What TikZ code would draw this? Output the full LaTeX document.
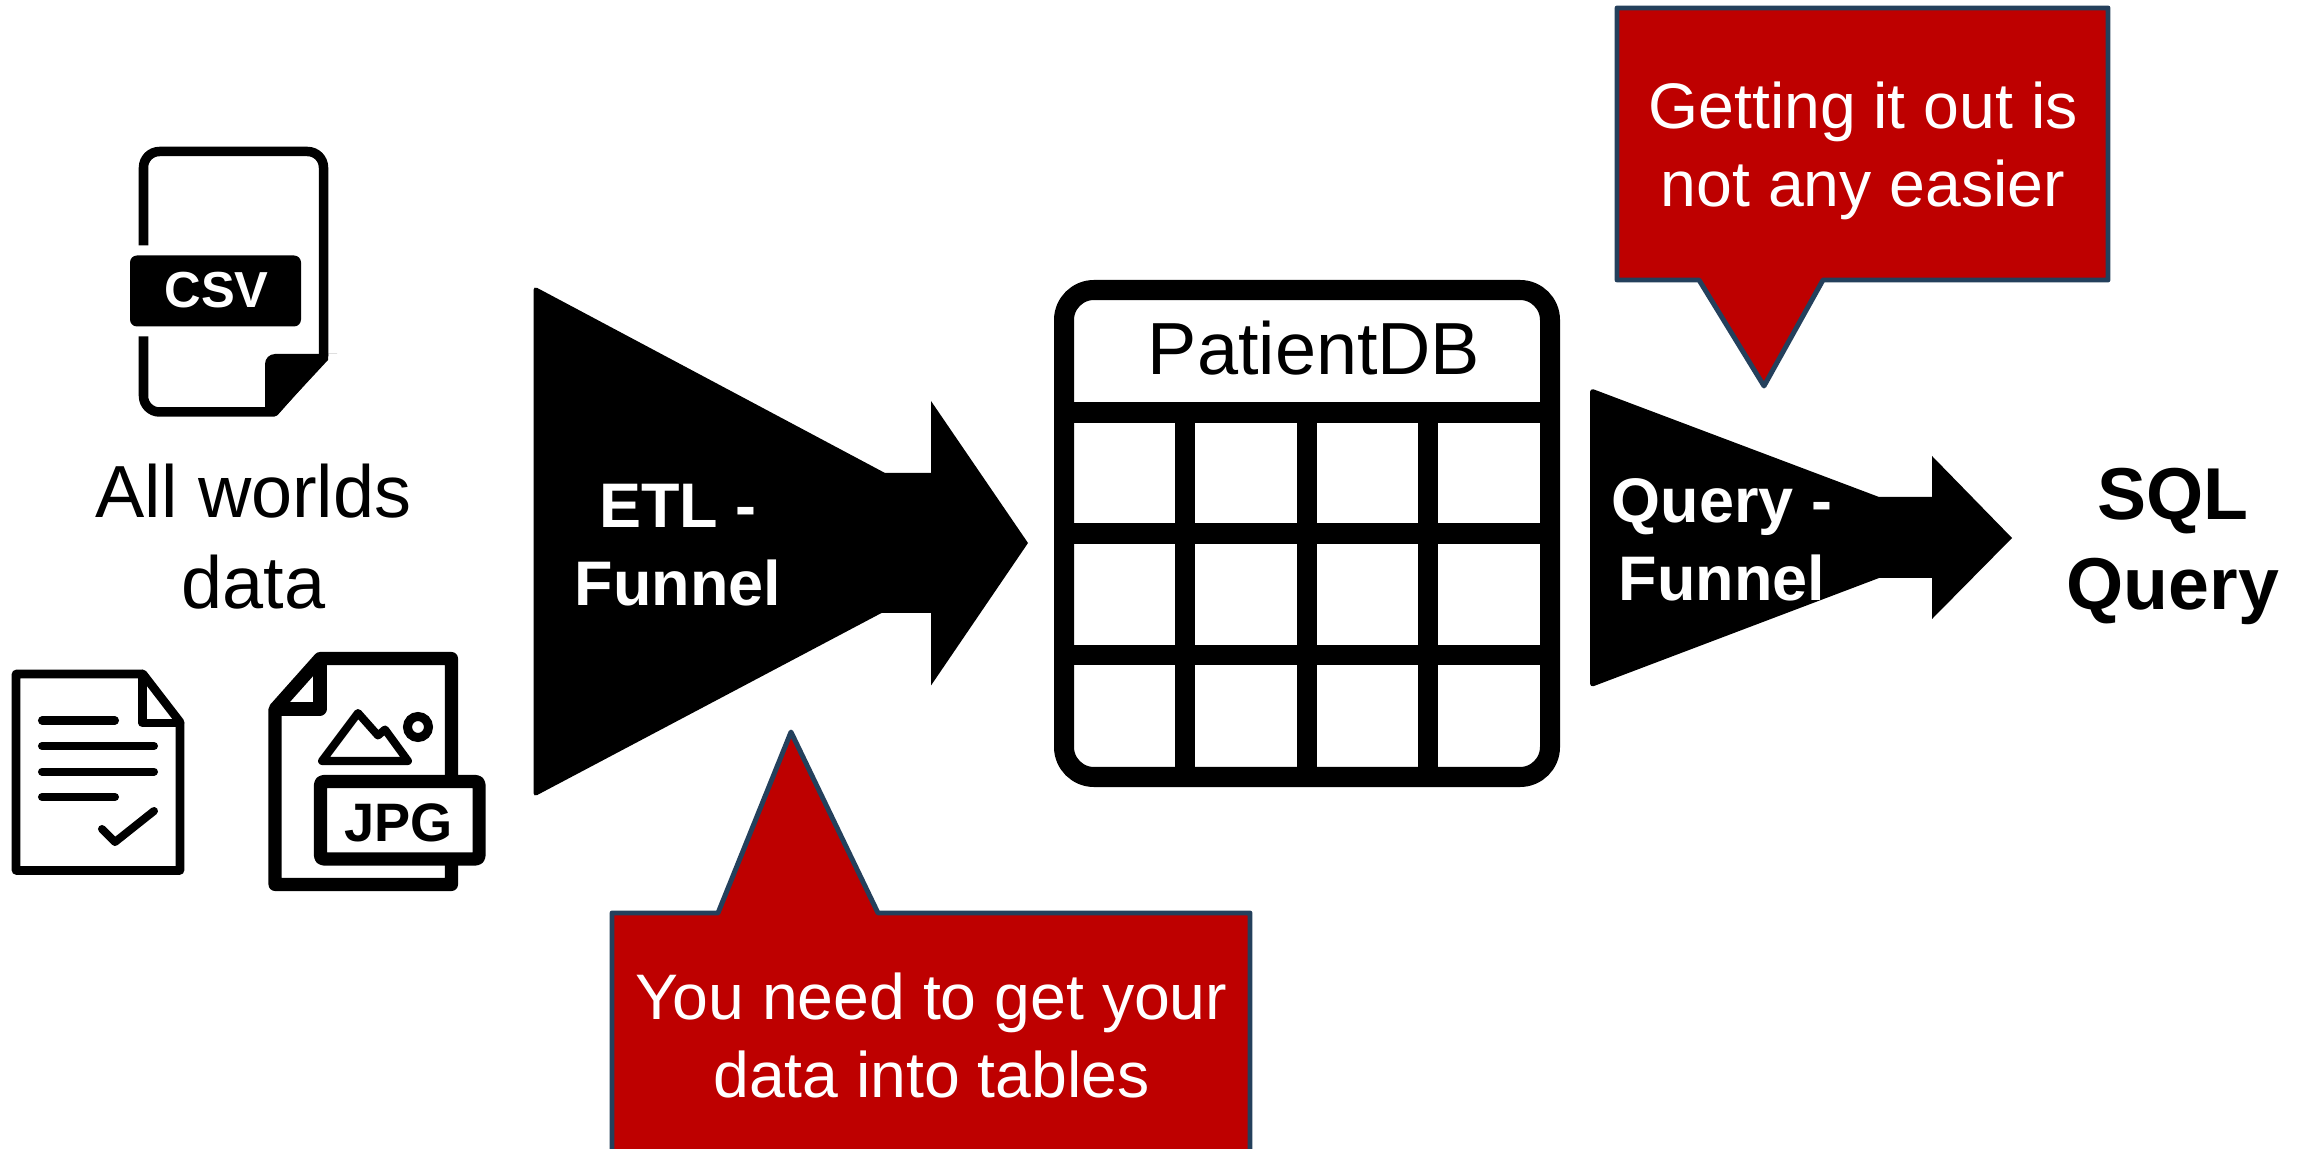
\documentclass[tikz,border=0pt]{standalone}
\usepackage{fontspec}
\setmainfont{Liberation Sans}
\usepackage{tikz}
\definecolor{calloutred}{HTML}{BE0000}
\definecolor{calloutblue}{HTML}{24405C}
\tikzstyle{funnel} = [fill=black, draw=none]
\tikzstyle{callout} = [fill=calloutred, draw=calloutblue, line width=1.4pt, line join=round]
\tikzstyle{calloutlabel} = [text=white, align=center, inner sep=0pt, font=\fontsize{18.3}{22.2}\selectfont]
\tikzstyle{funnellabel} = [text=white, align=center, inner sep=0pt, font=\fontsize{17.9}{22.2}\selectfont\bfseries]
\tikzstyle{tableline} = [line width=0.2cm, draw=black]
\tikzstyle{iconline} = [line width=0.08cm, draw=black, line cap=round, line join=round]
\tikzstyle{thickicon} = [line width=0.13cm, draw=black, line join=round]

\begin{document}
\begin{tikzpicture}[x=0.01cm, y=-0.01cm]
        \clip (0,0) rectangle (2305,1149);

        % csv file
        \draw[iconline, line width=0.095cm, line cap=butt, rounded corners=0.16cm] (143.5,245.5) -- (143.5,151.5) -- (323.5,151.5) -- (323.5,300) [sharp corners] -- (323.5,356) -- (274,412) [rounded corners=0.16cm] -- (143.5,412) -- (143.5,336.5);
        \fill[rounded corners=0.1cm] (265,414) -- (265,354) -- (327,354) [sharp corners] -- (328,354) -- (328,360) -- (276,416) -- (265,416) -- cycle;
        \fill[rounded corners=0.07cm] (130,255.5) rectangle (301,326.5);
        \node (csv) [anchor=base, text=white, inner sep=0pt, font=\fontsize{14.4}{16}\selectfont\bfseries] at (216.5,308) {CSV};

        % text file
        \draw[iconline, line width=0.085cm] (16,674) -- (143,674) -- (180,722) -- (180,870.5) -- (16,870.5) -- cycle;
        \draw[iconline, line width=0.085cm] (142.5,674) -- (142.5,723) -- (180,723);
        \draw[iconline] (42,720.5) -- (115,720.5);
        \draw[iconline] (42,746) -- (154,746);
        \draw[iconline] (42,771.7) -- (154,771.7);
        \draw[iconline] (42,797) -- (115,797);
        \draw[iconline] (102,829) -- (115,842) -- (154,811);

        % jpg file
        \draw[thickicon] (320,658.5) -- (451.5,658.5) -- (451.5,884.5) -- (275,884.5) -- (275,709) -- cycle;
        \draw[thickicon] (320,658.5) -- (320,709) -- (275,709);
        \draw[iconline] (322,761) -- (358,713) -- (378,735.5) -- (385,729.5) -- (408,761) -- cycle;
        \draw[black, line width=0.09cm] (418,727) circle (10.5);
        \draw[thickicon, fill=white, rounded corners=0.03cm] (320.5,781.5) rectangle (479,859);
        \node (jpg) [anchor=base, inner sep=0pt, font=\fontsize{15.4}{17}\selectfont\bfseries] at (398.5,841) {JPG};

        \node (worlds) [align=center, inner sep=0pt, font=\fontsize{21}{25.9}\selectfont] at (253.5,537) {All worlds\\data};

        % etl funnel
        \fill[funnel, rounded corners=0.04cm] (533.5,797) -- (533.5,286) -- (552,295.8) [sharp corners] -- (885,473) -- (931,473) -- (931,401) -- (1028,543) -- (931,685.5) -- (931,613) -- (881.5,613) -- (552,787.2) [rounded corners=0.04cm] -- cycle;
        \node (etl) [funnellabel] at (678,545.5) {ETL -\\Funnel};

        % table
        \draw[tableline, rounded corners=0.3cm] (1064,290) rectangle (1550,777);
        \draw[tableline] (1064,412.5) -- (1550,412.5);
        \draw[tableline] (1064,533.5) -- (1550,533.5);
        \draw[tableline] (1064,655) -- (1550,655);
        \draw[tableline] (1185,412.5) -- (1185,777);
        \draw[tableline] (1307,412.5) -- (1307,777);
        \draw[tableline] (1428,412.5) -- (1428,777);
        \node (patientdb) [anchor=base, inner sep=0pt, font=\fontsize{21}{24}\selectfont] at (1314,375) {PatientDB};

        % query funnel
        \fill[funnel, rounded corners=0.04cm] (1590,687.5) -- (1590,388) -- (1604,393.3) [sharp corners] -- (1879,497) -- (1932,497) -- (1932,456) -- (2012,538) -- (1932,619) -- (1932,578) -- (1879,578) -- (1604,682.2) [rounded corners=0.04cm] -- cycle;
        \node (query) [funnellabel] at (1722,540) {Query -\\Funnel};

        \node (sql) [align=center, inner sep=0pt, font=\fontsize{20.9}{25.6}\selectfont\bfseries] at (2173,546.5) {SQL\\Query};

        % callouts
        \draw[callout] (1617,8) -- (2108,8) -- (2108,280) -- (1823,280) -- (1764,386) -- (1699,280) -- (1617,280) -- cycle;
        \node (easier) [calloutlabel] at (1863,151) {Getting it out is\\not any easier};

        \draw[callout] (612,1170) -- (612,913) -- (718,913) -- (791,732) -- (878,913) -- (1250,913) -- (1250,1170) -- cycle;
        \node (tables) [calloutlabel] at (931.5,1035.5) {You need to get your\\data into tables};
\end{tikzpicture}
\end{document}
